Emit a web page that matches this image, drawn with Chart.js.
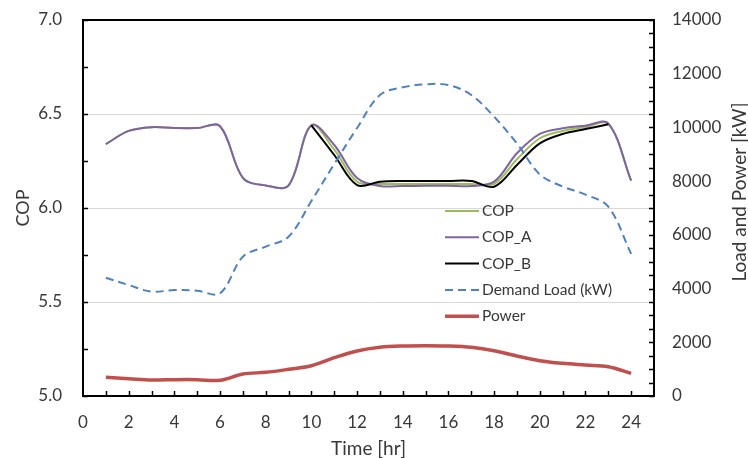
<!DOCTYPE html>
<html>
<head>
<meta charset="utf-8">
<script src="https://cdn.jsdelivr.net/npm/chart.js@4.4.1/dist/chart.umd.min.js"></script>
<style>
  html, body { margin: 0; padding: 0; background: #fff; }
</style>
</head>
<body>
<canvas id="copChart" width="748" height="458"></canvas>
<script>
var hours = [1, 2, 3, 4, 5, 6, 7, 8, 9, 10, 11, 12, 13, 14, 15, 16, 17, 18, 19, 20, 21, 22, 23, 24];
var cop = [6.34, 6.41, 6.43, 6.425, 6.425, 6.435, 6.16, 6.12, 6.12, 6.44, 6.31, 6.14, 6.128, 6.128, 6.128, 6.128, 6.128, 6.128, 6.259, 6.371, 6.41, 6.43, 6.447, 6.145];
var copA = [6.34, 6.41, 6.43, 6.425, 6.425, 6.435, 6.16, 6.12, 6.12, 6.44, 6.335, 6.16, 6.117, 6.117, 6.118, 6.118, 6.117, 6.14, 6.291, 6.394, 6.424, 6.438, 6.45, 6.145];
var copB = [null, null, null, null, null, null, null, null, null, 6.44, 6.282, 6.122, 6.14, 6.144, 6.144, 6.144, 6.144, 6.113, 6.229, 6.344, 6.394, 6.42, 6.445, null];
var demand = [4405, 4133, 3884, 3947, 3922, 3823, 5187, 5560, 5932, 7260, 8638, 9979, 11207, 11494, 11606, 11580, 11207, 10400, 9400, 8250, 7800, 7500, 7050, 5290];
var power = [696, 646, 596, 608, 608, 584, 819, 882, 994, 1128, 1426, 1675, 1813, 1862, 1873, 1862, 1813, 1687, 1489, 1315, 1216, 1154, 1092, 845];
var xTicks = [0, 2, 4, 6, 8, 10, 12, 14, 16, 18, 20, 22, 24];

var textColor = '#383838';
var fontName = 'Lato';
var clear = 'rgba(0,0,0,0)';

function pts(arr) {
  return hours.map(function (h, i) { return { x: h, y: arr[i] }; });
}

// inward tick marks, plot frame, legend and the right axis title
var decorations = {
  id: 'decorations',
  afterDraw: function (chart) {
    var a = chart.chartArea, c = chart.ctx, L = 5;
    var x = chart.scales.x, y = chart.scales.y, y1 = chart.scales.y1;
    var v, p;
    c.save();
    c.strokeStyle = '#000';
    c.lineWidth = 1.5;
    c.beginPath();
    for (v = 5; v <= 7.001; v += 0.25) {
      p = Math.round(y.getPixelForValue(v)) + 0.5;
      c.moveTo(a.left, p); c.lineTo(a.left + L, p);
    }
    for (v = 0; v <= 14000; v += 500) {
      p = Math.round(y1.getPixelForValue(v)) + 0.5;
      c.moveTo(a.right - L, p); c.lineTo(a.right, p);
    }
    for (v = 1; v <= 24; v++) {
      p = Math.round(x.getPixelForValue(v)) + 0.5;
      c.moveTo(p, a.bottom); c.lineTo(p, a.bottom - L);
    }
    c.stroke();
    c.lineWidth = 2;
    c.strokeRect(a.left, a.top, a.right - a.left, a.bottom - a.top);

    // legend
    c.font = '15.5px ' + fontName;
    c.textBaseline = 'middle';
    c.textAlign = 'left';
    chart.data.datasets.forEach(function (ds, i) {
      var ry = 211 + i * 26.3;
      c.strokeStyle = ds.borderColor;
      c.lineWidth = ds.borderWidth;
      c.setLineDash(ds.borderDash || []);
      c.beginPath();
      c.moveTo(445, ry); c.lineTo(479, ry);
      c.stroke();
      c.setLineDash([]);
      c.fillStyle = textColor;
      c.fillText(ds.label, 482, ry);
    });

    // right axis title, reading bottom to top
    c.translate(740, 192);
    c.rotate(-Math.PI / 2);
    c.textAlign = 'center';
    c.font = '19px ' + fontName;
    c.fillText('Load and Power [kW]', 0, 0);
    c.restore();
  }
};

function draw() {
  new Chart(document.getElementById('copChart'), {
    type: 'line',
    data: {
      datasets: [
        { label: 'COP', data: pts(cop), borderColor: '#9bbb59', borderWidth: 2, yAxisID: 'y', order: 3 },
        { label: 'COP_A', data: pts(copA), borderColor: '#8064a2', borderWidth: 2, yAxisID: 'y', order: 2 },
        { label: 'COP_B', data: pts(copB), borderColor: '#000000', borderWidth: 2, yAxisID: 'y', order: 1 },
        { label: 'Demand Load (kW)', data: pts(demand), borderColor: '#4f81bd', borderWidth: 2, borderDash: [8, 5], yAxisID: 'y1', order: 0 },
        { label: 'Power', data: pts(power), borderColor: '#c0504d', borderWidth: 3.5, yAxisID: 'y1', order: 0 }
      ]
    },
    options: {
      responsive: false,
      animation: false,
      events: [],
      layout: { padding: { top: 20, right: 0, bottom: 0, left: 0 } },
      elements: {
        point: { radius: 0 },
        line: { tension: 0.35, fill: false }
      },
      plugins: {
        legend: { display: false },
        tooltip: { enabled: false }
      },
      scales: {
        x: {
          type: 'linear',
          min: 0,
          max: 25,
          grid: { display: true, drawOnChartArea: false, drawTicks: true, tickLength: 15, tickColor: clear },
          border: { display: false },
          ticks: { stepSize: 2, color: textColor, font: { family: fontName, size: 17 }, padding: 1, maxRotation: 0 },
          afterBuildTicks: function (s) { s.ticks = xTicks.map(function (t) { return { value: t }; }); },
          afterFit: function (s) { s.height = 62; },
          title: { display: true, text: 'Time [hr]', color: textColor, font: { family: fontName, size: 19 }, padding: { top: 0, bottom: -2 } }
        },
        y: {
          position: 'left',
          min: 5,
          max: 7,
          grid: {
            drawTicks: true,
            tickLength: 21,
            tickColor: clear,
            lineWidth: 1,
            color: function (ctx) {
              var v = ctx.tick && ctx.tick.value;
              return (v > 5.01 && v < 6.99) ? '#d9d9d9' : clear;
            }
          },
          border: { display: false },
          ticks: { stepSize: 0.5, color: textColor, font: { family: fontName, size: 17 }, padding: 0,
            callback: function (v) { return v.toFixed(1); } },
          afterFit: function (s) { s.width = 83; },
          title: { display: true, text: 'COP', color: textColor, font: { family: fontName, size: 18 }, padding: { top: 12, bottom: 0 } }
        },
        y1: {
          position: 'right',
          min: 0,
          max: 14000,
          grid: { display: true, drawOnChartArea: false, drawTicks: true, tickLength: 18, tickColor: clear },
          border: { display: false },
          ticks: { stepSize: 2000, color: textColor, font: { family: fontName, size: 17 }, padding: 0,
            callback: function (v) { return String(v); } },
          afterFit: function (s) { s.width = 94; }
        }
      }
    },
    plugins: [decorations]
  });
}

if (document.fonts && document.fonts.load) {
  document.fonts.load('16px ' + fontName).then(draw, draw);
} else {
  draw();
}
</script>
</body>
</html>
